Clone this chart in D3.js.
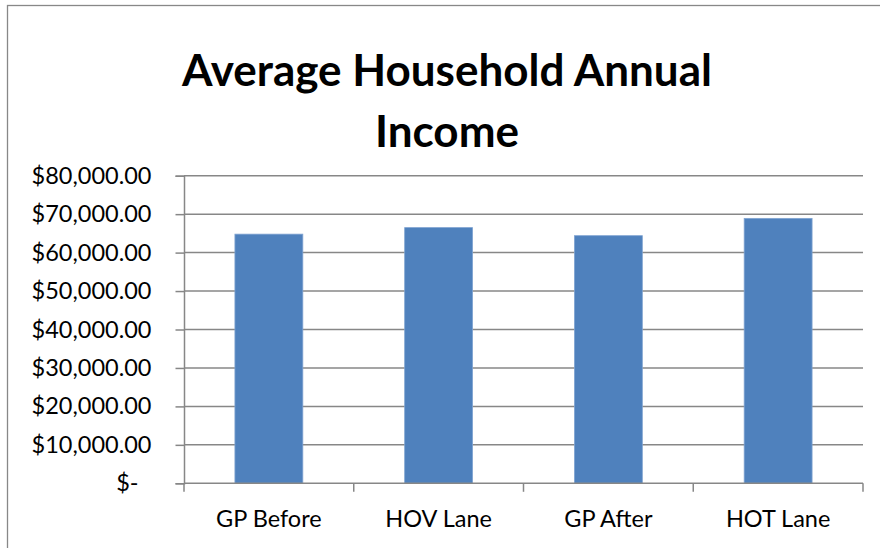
<!DOCTYPE html>
<html>
<head>
<meta charset="utf-8">
<script src="https://cdn.jsdelivr.net/npm/d3@7"></script>
<style>
  html, body { margin: 0; padding: 0; background: #fff; }
  svg { display: block; }
</style>
</head>
<body>
<svg id="chart" width="880" height="548"></svg>
<script>
// Average household annual income by lane type
const categories = ["GP Before", "HOV Lane", "GP After", "HOT Lane"];
const incomes = [64800, 66500, 64400, 68900];
const yTicks = [0, 10000, 20000, 30000, 40000, 50000, 60000, 70000, 80000];
const titleLines = ["Average Household Annual", "Income"];

const svg = d3.select("#chart");
const W = 880, H = 548;
const font = "Lato, 'Open Sans', sans-serif";
const gridColor = "#878787";

// chart frame
svg.append("rect")
  .attr("x", 7.5).attr("y", 5.5)
  .attr("width", W + 10).attr("height", H + 10)
  .attr("fill", "#fff").attr("stroke", "#888").attr("stroke-width", 1.3);

const plot = { left: 184, right: 863, top: 175.7, bottom: 483.3 };

const x = d3.scaleBand()
  .domain(categories)
  .range([plot.left, plot.right])
  .paddingInner(0.6)
  .paddingOuter(0.3);

const y = d3.scaleLinear()
  .domain([0, 80000])
  .range([plot.bottom, plot.top]);

// title
svg.append("text")
  .attr("font-family", font).attr("font-weight", "bold")
  .attr("font-size", 44).attr("text-anchor", "middle").attr("fill", "#000")
  .selectAll("tspan").data(titleLines).join("tspan")
  .attr("x", 447).attr("y", (d, i) => 86 + i * 61)
  .text(d => d);

// horizontal gridlines
svg.append("g").selectAll("line").data(yTicks.filter(v => v > 0)).join("line")
  .attr("x1", plot.left).attr("x2", plot.right)
  .attr("y1", d => y(d)).attr("y2", d => y(d))
  .attr("stroke", gridColor).attr("stroke-width", 1.5);

// bars
svg.append("g").selectAll("rect").data(categories).join("rect")
  .attr("x", d => x(d))
  .attr("width", x.bandwidth())
  .attr("y", (d, i) => y(incomes[i]))
  .attr("height", (d, i) => y(0) - y(incomes[i]))
  .attr("fill", "#4F81BD")
  .attr("stroke", "#7FA3D1").attr("stroke-width", 0.8);

// y axis (accounting style labels)
const fmt = v => v === 0 ? "$-" : "$" + d3.format(",.2f")(v);
const yAxis = d3.axisLeft(y).tickValues(yTicks).tickFormat(fmt).tickSize(8.5).tickPadding(24);
const gy = svg.append("g").attr("transform", `translate(${plot.left},0)`).call(yAxis);
gy.select(".domain").attr("stroke", gridColor).attr("stroke-width", 1.5);
gy.selectAll(".tick line").attr("stroke", gridColor).attr("stroke-width", 1.5);
gy.selectAll(".tick text").attr("font-family", font).attr("font-size", 23.5)
  .attr("fill", "#000")
  .attr("dx", d => d === 0 ? -13 : 0);

// x axis: ticks at category boundaries
const boundaries = d3.range(categories.length + 1)
  .map(i => plot.left + i * (plot.right - plot.left) / categories.length);
const gx = svg.append("g");
gx.append("line")
  .attr("x1", plot.left).attr("x2", plot.right)
  .attr("y1", plot.bottom).attr("y2", plot.bottom)
  .attr("stroke", gridColor).attr("stroke-width", 1.5);
gx.selectAll("line.t").data(boundaries).join("line").attr("class", "t")
  .attr("x1", d => d).attr("x2", d => d)
  .attr("y1", plot.bottom).attr("y2", plot.bottom + 8.5)
  .attr("stroke", gridColor).attr("stroke-width", 1.5);
gx.selectAll("text").data(categories).join("text")
  .attr("x", d => x(d) + x.bandwidth() / 2)
  .attr("y", 527)
  .attr("text-anchor", "middle")
  .attr("font-family", font).attr("font-size", 23.5).attr("fill", "#000")
  .text(d => d);
</script>
</body>
</html>
